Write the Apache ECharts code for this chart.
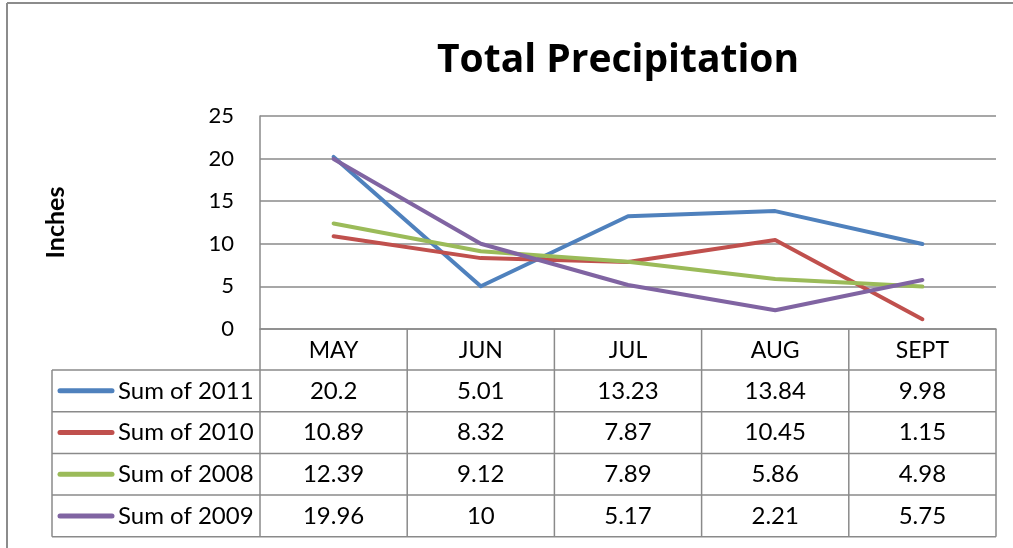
<!DOCTYPE html>
<html>
<head>
<meta charset="utf-8">
<script src="https://cdn.jsdelivr.net/npm/echarts@6/dist/echarts.min.js"></script>
<style>
html,body{margin:0;padding:0;background:#fff;}
#chart{width:1013px;height:548px;}
</style>
</head>
<body>
<div id="chart"></div>
<script>
const categories = ['MAY', 'JUN', 'JUL', 'AUG', 'SEPT'];
const seriesNames = ['Sum of 2011', 'Sum of 2010', 'Sum of 2008', 'Sum of 2009'];
const sum2011 = [20.2, 5.01, 13.23, 13.84, 9.98];
const sum2010 = [10.89, 8.32, 7.87, 10.45, 1.15];
const sum2008 = [12.39, 9.12, 7.89, 5.86, 4.98];
const sum2009 = [19.96, 10, 5.17, 2.21, 5.75];
const seriesValues = [sum2011, sum2010, sum2008, sum2009];
const colors = ['#4F81BD', '#C0504D', '#9BBB59', '#8064A2'];
const yMin = 0, yMax = 25, yStep = 5;

const FONT = 'Lato';
const GRID = {left: 260, top: 116, width: 736, height: 213};
const ROW_H = 41.7;
const TABLE_TOP = 370;
const TABLE_LEFT = 52;
const LINE_COLOR = '#8a8a8a';

const chart = echarts.init(document.getElementById('chart'), null, {renderer: 'canvas'});

const option = {
  animation: false,
  backgroundColor: '#fff',
  color: colors,
  textStyle: {fontFamily: FONT},
  title: {
    text: 'Total Precipitation',
    left: 432, top: 36,
    textStyle: {fontFamily: 'Open Sans', fontSize: 39, fontWeight: 'bold', color: '#000'}
  },
  grid: {left: GRID.left, top: GRID.top, width: GRID.width, height: GRID.height, containLabel: false},
  xAxis: {
    type: 'category',
    data: categories,
    boundaryGap: true,
    axisLine: {show: true, lineStyle: {color: LINE_COLOR, width: 1.5}},
    axisTick: {show: false},
    axisLabel: {margin: 10, fontSize: 23, color: '#000', fontFamily: FONT}
  },
  yAxis: {
    type: 'value',
    min: yMin, max: yMax, interval: yStep,
    name: 'Inches',
    nameLocation: 'middle',
    nameRotate: 90,
    nameGap: 192,
    nameTextStyle: {fontFamily: FONT, fontSize: 25, fontWeight: 'bold', color: '#000'},
    axisLine: {show: true, lineStyle: {color: LINE_COLOR, width: 1.5}},
    axisTick: {show: false},
    axisLabel: {margin: 26, fontSize: 22, color: '#000', fontFamily: FONT},
    splitLine: {show: true, lineStyle: {color: LINE_COLOR, width: 1.5}}
  },
  series: seriesNames.map((n, i) => ({
    name: n,
    type: 'line',
    data: seriesValues[i],
    symbol: 'none',
    lineStyle: {width: 4, color: colors[i], cap: 'round', join: 'round'},
    z: 2 + i
  }))
};
chart.setOption(option);

// Build the data table from the axis' own scale
const centers = categories.map((c, i) => chart.convertToPixel({xAxisIndex: 0}, i));
const half = (centers[1] - centers[0]) / 2;
const bounds = [centers[0] - half].concat(centers.map(c => c + half));
const plotLeft = bounds[0], plotRight = bounds[bounds.length - 1];
const zeroY = chart.convertToPixel({yAxisIndex: 0}, 0);
const nRows = seriesNames.length;
const tableBottom = TABLE_TOP + ROW_H * nRows;
const g = [];
const ln = (x1, y1, x2, y2) => g.push({type: 'line', shape: {x1, y1, x2, y2}, style: {stroke: LINE_COLOR, lineWidth: 1.5}, silent: true});

// outer chart border (top & left)
g.push({type: 'line', shape: {x1: 7, y1: 3, x2: 1013, y2: 3}, style: {stroke: '#8c8c8c', lineWidth: 2}});
g.push({type: 'line', shape: {x1: 7, y1: 3, x2: 7, y2: 548}, style: {stroke: '#8c8c8c', lineWidth: 2}});

// column separators in header + body
bounds.forEach((x, i) => { if (i > 0) ln(x, zeroY, x, tableBottom); });
ln(plotLeft, zeroY, plotLeft, tableBottom);
// row lines
for (let r = 0; r <= nRows; r++) ln(TABLE_LEFT, TABLE_TOP + r * ROW_H, plotRight, TABLE_TOP + r * ROW_H);
ln(TABLE_LEFT, TABLE_TOP, TABLE_LEFT, tableBottom);

seriesNames.forEach((name, r) => {
  const cy = TABLE_TOP + r * ROW_H + ROW_H / 2;
  g.push({type: 'line', shape: {x1: 60, y1: cy, x2: 112, y2: cy}, style: {stroke: colors[r], lineWidth: 5, lineCap: 'round'}});
  g.push({type: 'text', x: 118, y: cy, style: {text: name, font: '24px ' + FONT, fill: '#000', textAlign: 'left', textVerticalAlign: 'middle'}});
  seriesValues[r].forEach((v, c) => {
    g.push({type: 'text', x: centers[c], y: cy, style: {text: String(v), font: '24px ' + FONT, fill: '#000', textAlign: 'center', textVerticalAlign: 'middle'}});
  });
});

chart.setOption({graphic: g});
</script>
</body>
</html>
